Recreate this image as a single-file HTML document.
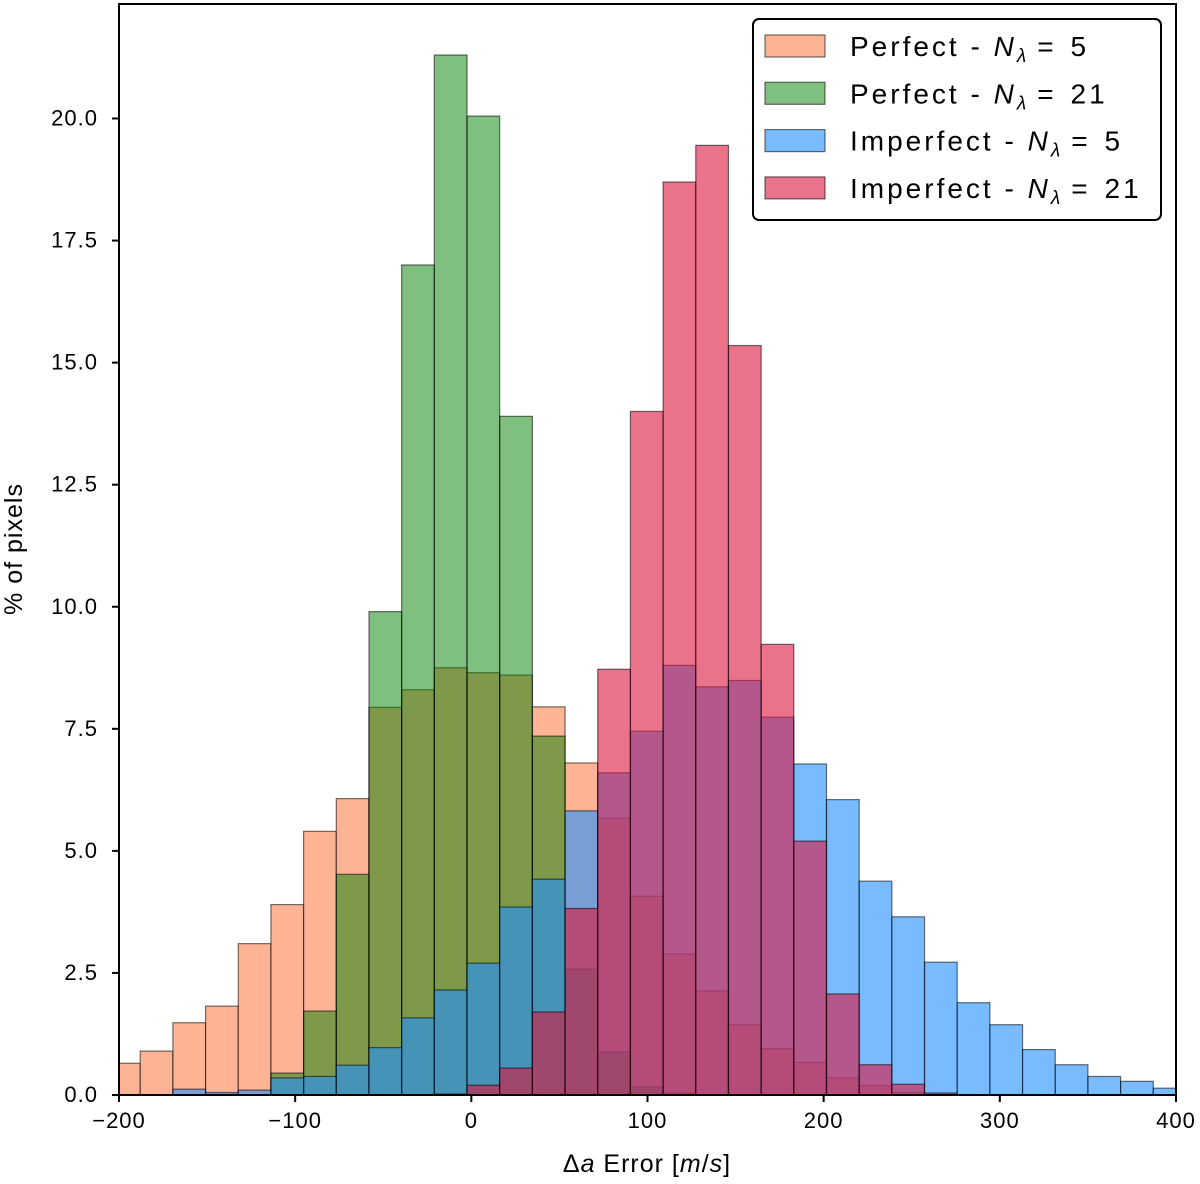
<!DOCTYPE html>
<html><head><meta charset="utf-8"><style>
html,body{margin:0;padding:0;background:#fff;}
svg{display:block;font-family:"Liberation Sans","DejaVu Sans",sans-serif;}
</style></head><body>
<svg id="chart" width="1200" height="1184" viewBox="0 0 1200 1184">
<defs><clipPath id="plotclip"><rect x="119" y="4" width="1057" height="1091"/></clipPath></defs>
<g id="bars" clip-path="url(#plotclip)"></g>
<rect x="119" y="4" width="1057" height="1091" fill="none" stroke="#000" stroke-width="2"/>
<g id="xticks"></g>
<g id="yticks"></g>
<text x="647" y="1172" font-size="25" text-anchor="middle" letter-spacing="1">Δ<tspan font-style="italic">a</tspan> Error [<tspan font-style="italic">m</tspan>/<tspan font-style="italic">s</tspan>]</text>
<text transform="translate(22,549) rotate(-90)" font-size="25" text-anchor="middle" letter-spacing="1">% of pixels</text>
<g>
<rect x="753" y="19" width="408" height="201" rx="6" fill="#fff" stroke="#000" stroke-width="2"/>
<g id="legend"></g>
</g>
</svg>
<script>
const binStart = -206.5;
const binWidth = 18.55;
const perfect5 = [0.65,0.9,1.48,1.82,3.1,3.9,5.4,6.07,7.94,8.3,8.75,8.65,8.6,7.95,6.8,5.67,4.07,2.89,2.13,1.44,0.95,0.67,0.35,0.19,0.05,0,0,0,0,0,0,0,0];
const perfect21 = [0,0,0,0,0,0.45,1.72,4.52,9.9,17.0,21.3,20.05,13.9,7.35,2.58,0.88,0.17,0.04,0,0,0,0,0,0,0,0,0,0,0,0,0,0,0];
const imperfect5 = [0,0,0.12,0.05,0.1,0.35,0.38,0.61,0.97,1.58,2.15,2.7,3.85,4.42,5.82,6.6,7.45,8.8,8.36,8.49,7.74,6.78,6.05,4.38,3.65,2.72,1.89,1.44,0.93,0.62,0.38,0.28,0.14];
const imperfect21 = [0,0,0,0,0,0,0,0,0,0,0.02,0.2,0.55,1.7,3.82,8.72,14.0,18.7,19.45,15.35,9.23,5.2,2.07,0.62,0.22,0.04,0,0,0,0,0,0,0];
const xTicks = [-200,-100,0,100,200,300,400];
const xTickLabels = ["\u2212200","\u2212100","0","100","200","300","400"];
const yTicks = [0,2.5,5,7.5,10,12.5,15,17.5,20];
const yTickLabels = ["0.0","2.5","5.0","7.5","10.0","12.5","15.0","17.5","20.0"];
const seriesNames = ["perfect-5","perfect-21","imperfect-5","imperfect-21"];
const seriesData = [perfect5, perfect21, imperfect5, imperfect21];
const seriesColors = ["rgba(255,160,122,0.8)","rgba(0,128,0,0.5)","rgba(30,144,255,0.6)","rgba(220,20,60,0.6)"];
const legendPrefix = ["Perfect - ","Perfect - ","Imperfect - ","Imperfect - "];
const legendNumber = ["5","21","5","21"];

const NS="http://www.w3.org/2000/svg";
const X0=119,X1=1176,Y0=1095,Y1=118.5;
function xs(v){return X0+(v+200)/600*(X1-X0);}
function ys(v){return Y0-v/20*(Y0-Y1);}
function mk(t,a){const e=document.createElementNS(NS,t);for(const k in a)e.setAttribute(k,a[k]);return e;}

const bars=document.getElementById('bars');
seriesData.forEach((arr,si)=>{
  const g=mk('g',{});
  
  
  arr.forEach((v,i)=>{
    if(v<=0)return;
    const a=binStart+i*binWidth,b=a+binWidth;
    const r=mk('rect',{x:xs(a),y:ys(v),width:xs(b)-xs(a),height:ys(0)-ys(v),fill:seriesColors[si],stroke:'rgba(0,0,0,0.55)','stroke-width':1.2});
    
    
    g.appendChild(r);
  });
  bars.appendChild(g);
});

const xg=document.getElementById('xticks');
xTicks.forEach((v,i)=>{
  const x=xs(v);
  const l=mk('line',{x1:x,x2:x,y1:Y0,y2:Y0+7,stroke:'#000','stroke-width':2});
  
  
  xg.appendChild(l);
  const t=mk('text',{x:x,y:Y0+33,'font-size':22,'text-anchor':'middle','letter-spacing':1});
  
  
  t.textContent=xTickLabels[i];
  xg.appendChild(t);
});
const yg=document.getElementById('yticks');
yTicks.forEach((v,i)=>{
  const y=ys(v);
  const l=mk('line',{x1:X0-7,x2:X0,y1:y,y2:y,stroke:'#000','stroke-width':2});
  
  
  yg.appendChild(l);
  const t=mk('text',{x:X0-21,y:y+7,'font-size':22,'text-anchor':'end','letter-spacing':1});
  
  
  t.textContent=yTickLabels[i];
  yg.appendChild(t);
});

const lg=document.getElementById('legend');
seriesNames.forEach((nm,i)=>{
  const cy=46+i*47.3;
  const r=mk('rect',{x:765,y:cy-11,width:60,height:22,fill:seriesColors[i],stroke:'rgba(0,0,0,0.55)','stroke-width':1.2});
  
  
  lg.appendChild(r);
  const t=mk('text',{x:850,y:cy+10,'font-size':28,'letter-spacing':3});
  
  
  const s1=mk('tspan',{});s1.textContent=legendPrefix[i];t.appendChild(s1);
  const s2=mk('tspan',{'font-style':'italic'});s2.textContent='N';t.appendChild(s2);
  const s3=mk('tspan',{'font-style':'italic','font-size':19,dy:6});s3.textContent='λ';t.appendChild(s3);
  const s4=mk('tspan',{dy:-6,dx:8});s4.textContent='=';t.appendChild(s4);
  const s5=mk('tspan',{dx:14});s5.textContent=legendNumber[i];t.appendChild(s5);
  lg.appendChild(t);
});
</script>
</body></html>
